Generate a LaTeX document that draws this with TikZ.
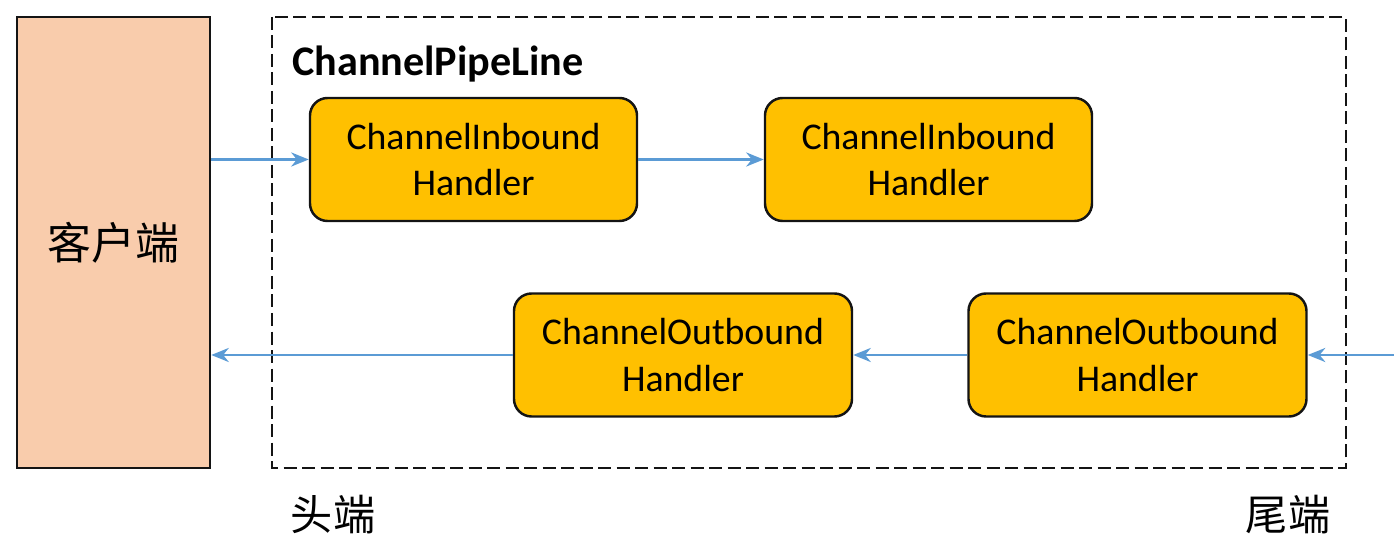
\documentclass[tikz,border=0pt]{standalone}
\usepackage{fontspec}
\setmainfont{Carlito}
\newfontfamily\cjkfont{Noto Sans CJK SC}
\usetikzlibrary{arrows.meta, positioning}
\definecolor{clientpeach}{RGB}{249, 204, 172}
\definecolor{handleramber}{RGB}{255, 192, 0}
\definecolor{flowblue}{RGB}{91, 155, 213}
\definecolor{edgeblack}{RGB}{20, 20, 20}

\begin{document}
\begin{tikzpicture}[
    x=0.2mm, y=-0.2mm,
    clientbox/.style={
        rectangle,
        draw=edgeblack,
        line width=1.4pt,
        fill=clientpeach,
        minimum width=38.6mm,
        minimum height=90.2mm,
        font=\cjkfont\fontsize{25}{30}\selectfont
    },
    handlerbox/.style={
        rectangle,
        rounded corners=10pt,
        draw=edgeblack,
        line width=1.4pt,
        fill=handleramber,
        minimum height=24.6mm,
        align=center,
        font=\fontsize{21.5}{26.6}\selectfont
    },
    inbox/.style={handlerbox, minimum width=65.4mm},
    outbox/.style={handlerbox, minimum width=67.6mm},
    pipeframe/.style={
        draw=edgeblack,
        line width=1.3pt,
        dash pattern=on 2.6mm off 1.1mm
    },
    flow/.style={
        -{Stealth[length=10pt, width=8pt]},
        line width=1.5pt,
        draw=flowblue
    },
    endlabel/.style={font=\cjkfont\fontsize{24}{28}\selectfont}
]
    \useasboundingbox (0,0) rectangle (1394,541);

    % Client
    \node[clientbox] (client) at (113.5,242.5) {客户端};

    % Pipeline frame
    \draw[pipeframe] (272,17) rectangle (1346,468);
    \node[anchor=west, font=\bfseries\fontsize{24}{28}\selectfont] (title) at (286,64) {ChannelPipeLine};

    % Inbound handlers
    \node[inbox] (in1) at (473.5,159.5) {ChannelInbound\\Handler};
    \node[inbox] (in2) at (928.5,159.5) {ChannelInbound\\Handler};

    % Outbound handlers
    \node[outbox] (out1) at (683,355) {ChannelOutbound\\Handler};
    \node[outbox] (out2) at (1137.5,355) {ChannelOutbound\\Handler};

    % Head and tail
    \node[endlabel] (head) at (333,515) {头端};
    \node[endlabel] (tail) at (1288,515) {尾端};

    % Arrows
    \coordinate (tailin) at (1394,355);
    \draw[flow] (client.east |- in1.west) -- (in1.west);
    \draw[flow] (in1.east) -- (in2.west);
    \draw[flow] (tailin) -- (out2.east);
    \draw[flow] (out2.west) -- (out1.east);
    \draw[flow] (out1.west) -- (out1.west -| client.east);

\end{tikzpicture}
\end{document}
